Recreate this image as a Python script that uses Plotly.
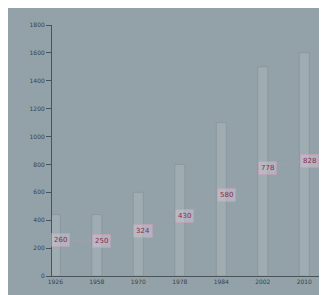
import plotly.graph_objects as go

years = ["1926", "1958", "1970", "1978", "1984", "2002", "2010"]
bar_values = [440, 440, 600, 800, 1100, 1500, 1600]
point_values = [260, 250, 324, 430, 580, 778, 828]
y_ticks = [0, 200, 400, 600, 800, 1000, 1200, 1400, 1600, 1800]

bg = "#93a2a9"

fig = go.Figure()
fig.add_trace(go.Bar(
    x=years, y=bar_values, width=0.24,
    marker=dict(color="rgba(205,212,216,0.22)",
                line=dict(color="rgba(125,137,143,0.45)", width=1)),
    hoverinfo="skip", showlegend=False,
))
fig.add_trace(go.Scatter(
    x=years, y=point_values, mode="lines",
    line=dict(color="rgba(200,150,170,0.20)", width=1),
    showlegend=False, hoverinfo="skip",
))

annotations = []
for i, v in enumerate(point_values):
    annotations.append(dict(
        x=i, y=v, xref="x", yref="y", text=str(v), showarrow=False,
        xshift=5,
        font=dict(family="DejaVu Sans", size=7, color="#8a2a4a"),
        bgcolor="rgba(215,200,215,0.45)", bordercolor="rgba(220,150,180,0.4)",
        borderwidth=1, borderpad=2,
    ))

fig.update_layout(
    width=327, height=295,
    margin=dict(l=44, r=5, t=17, b=27, autoexpand=False),
    paper_bgcolor=bg, plot_bgcolor=bg,
    font=dict(family="DejaVu Sans", size=6, color="#3a4246"),
    annotations=annotations,
    xaxis=dict(type="category", range=[-0.08, 6.62], showgrid=False,
               showline=True, linecolor="#4a5458", linewidth=1,
               automargin=False,
               ticks="", tickfont=dict(size=6, color="#3a4246")),
    yaxis=dict(range=[0, 1800], tickvals=y_ticks, showgrid=False,
               showline=True, linecolor="#4a5458", linewidth=1,
               automargin=False,
               ticks="outside", ticklen=5, tickcolor="#4a5458",
               tickfont=dict(size=6, color="#3a4246"), zeroline=False),
    bargap=0.5,
)

fig.write_html("out.html")
